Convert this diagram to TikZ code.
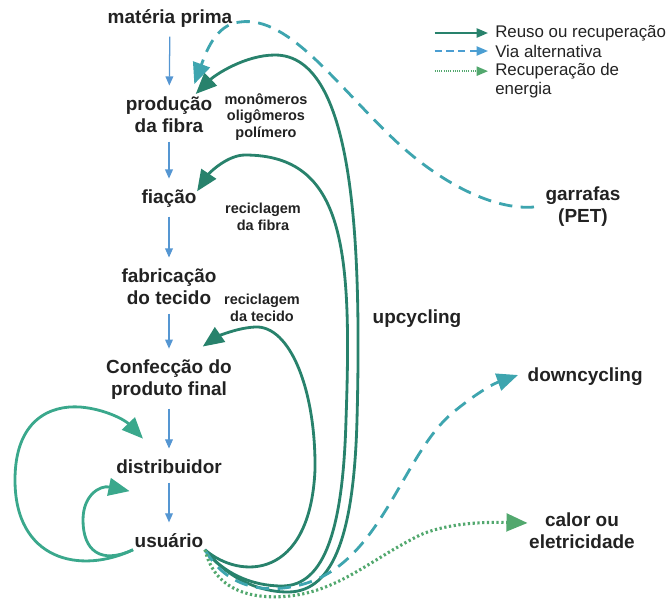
\documentclass[tikz,border=0pt]{standalone}
\usepackage{fontspec}
\setmainfont{Liberation Sans}
\usetikzlibrary{arrows.meta}
\definecolor{verdeReuso}{RGB}{40,130,108}
\definecolor{verdeLaco}{RGB}{58,168,140}
\definecolor{azulAlt}{RGB}{62,165,175}
\definecolor{azulLeg}{RGB}{75,158,210}
\definecolor{verdeEnerg}{RGB}{82,168,110}
\definecolor{azulFluxo}{RGB}{85,150,210}
\definecolor{cinzaTexto}{RGB}{34,34,34}

\begin{document}
\begin{tikzpicture}[x=0.025cm, y=-0.025cm,
		etapa/.style = {font=\fontsize{13.5}{15.6}\selectfont\bfseries, text=cinzaTexto, align=center, inner sep=1pt},
		nota/.style = {font=\fontsize{10.3}{12}\selectfont\bfseries, text=cinzaTexto, align=center, inner sep=1pt},
		legenda/.style = {font=\fontsize{12}{13.5}\selectfont, text=cinzaTexto, align=left, inner sep=0pt, anchor=west},
		fluxo/.style = {-{Triangle[length=6.5pt,width=5.5pt]}, azulFluxo, line width=0.9pt, shorten <=5pt, shorten >=7pt},
		reuso/.style = {-{Triangle[length=15pt,width=12.5pt]}, verdeReuso, line width=2pt},
		laco/.style = {-{Triangle[length=15pt,width=12.5pt]}, verdeLaco, line width=2pt},
		alternativa/.style = {-{Triangle[length=15pt,width=12.5pt]}, azulAlt, line width=2pt, dash pattern=on 9.5pt off 6pt},
		energia/.style = {-{Triangle[length=15pt,width=12.5pt]}, verdeEnerg, line width=2.2pt, dash pattern=on 1.6pt off 1.8pt}
	]
	\useasboundingbox (0,0) rectangle (672,600);
	% cadeia principal
	\node[etapa] (mat) at (170,19) {matéria prima};
	\node[etapa] (prod) at (169,115) {produção\\da fibra};
	\node[etapa] (fia) at (169,199) {fiação};
	\node[etapa] (fab) at (169,287) {fabricação\\do tecido};
	\node[etapa] (conf) at (169,380) {Confecção do\\produto final};
	\node[etapa] (dist) at (169,467) {distribuidor};
	\node[etapa] (usu) at (169,541) {usuário};
	\draw[fluxo] (mat) -- (prod);
	\draw[fluxo] (prod) -- (fia);
	\draw[fluxo] (fia) -- (fab);
	\draw[fluxo] (fab) -- (conf);
	\draw[fluxo] (conf) -- (dist);
	\draw[fluxo] (dist) -- (usu);
	% destinos e notas
	\node[nota] (mono) at (266,117) {monômeros\\oligômeros\\polímero};
	\node[nota] (recf) at (263,217) {reciclagem\\da fibra};
	\node[nota] (rect) at (262,308) {reciclagem\\da tecido};
	\node[etapa] (upc) at (417,319) {upcycling};
	\node[etapa] (gar) at (583,207) {garrafas\\(PET)};
	\node[etapa, anchor=west] (down) at (526,377) {downcycling};
	\node[etapa] (cal) at (582,531) {calor ou\\eletricidade};
	% retornos
	\draw[reuso] (usu.south east) .. controls (225,575) and (255,592) .. (288,592)
		.. controls (335,592) and (354,530) .. (357,420)
		.. controls (362,230) and (352,55) .. (275,55)
		.. controls (245,55) and (215,75) .. ([xshift=19pt,yshift=1pt]prod.north);
	\draw[reuso] (usu.south east) .. controls (222,572) and (250,586) .. (282,586)
		.. controls (325,586) and (343,528) .. (346,420)
		.. controls (352,250) and (345,155) .. (245,155)
		.. controls (228,155) and (210,172) .. ([xshift=20pt,yshift=-2pt]fia.north);
	\draw[reuso] (usu.south east) .. controls (240,580) and (310,580) .. (315,470)
		.. controls (316,390) and (290,325) .. (255,327)
		.. controls (235,328) and (215,338) .. ([xshift=24pt,yshift=8.5pt]conf.north);
	\draw[laco] (usu.south west) .. controls (80,575) and (15,560) .. (15,480)
		.. controls (15,420) and (50,405) .. (80,407)
		.. controls (105,409) and (125,420) .. ([xshift=-18.5pt,yshift=14pt]dist.north);
	\draw[laco] (usu.south west) .. controls (100,565) and (83,550) .. (83,520)
		.. controls (83,495) and (100,485) .. ([xshift=-28pt,yshift=-11pt]dist.south);
	% vias alternativas
	\draw[alternativa] ([xshift=-7pt]gar.west) .. controls (500,210) and (450,190) .. (400,145)
		.. controls (340,90) and (290,15) .. (240,22)
		.. controls (215,24) and (205,55) .. ([xshift=18pt,yshift=8pt]prod.north);
	\draw[alternativa] (usu.south east) .. controls (225,585) and (260,595) .. (300,585)
		.. controls (380,565) and (400,460) .. (450,415)
		.. controls (470,398) and (490,385) .. ([xshift=-5.7pt,yshift=1.4pt]down.west);
	\draw[energia] (usu.south east) .. controls (215,590) and (250,600) .. (290,596)
		.. controls (340,590) and (370,560) .. (420,535)
		.. controls (450,522) and (490,522) .. ([yshift=5.7pt]cal.west);
	% legenda
	\node[legenda] (lgA) at (495,33) {Reuso ou recuperação};
	\node[legenda] (lgB) at (495,51) {Via alternativa};
	\node[legenda] (lgC) at (495,81) {Recuperação de\\energia};
	\draw[reuso, -{Triangle[length=8pt,width=6.5pt]}, line width=1.3pt] ([xshift=-43pt]lgA.west) -- ([xshift=-5pt]lgA.west);
	\draw[alternativa, azulLeg, -{Triangle[length=8pt,width=6.5pt]}, line width=1.1pt, dash pattern=on 5pt off 3.5pt] ([xshift=-43pt]lgB.west) -- ([xshift=-5pt]lgB.west);
	\draw[energia, -{Triangle[length=8pt,width=6.5pt]}, line width=1.1pt, dash pattern=on 0.8pt off 0.8pt] ([xshift=-43pt,yshift=7pt]lgC.west) -- ([xshift=-5pt,yshift=7pt]lgC.west);
\end{tikzpicture}
\end{document}
